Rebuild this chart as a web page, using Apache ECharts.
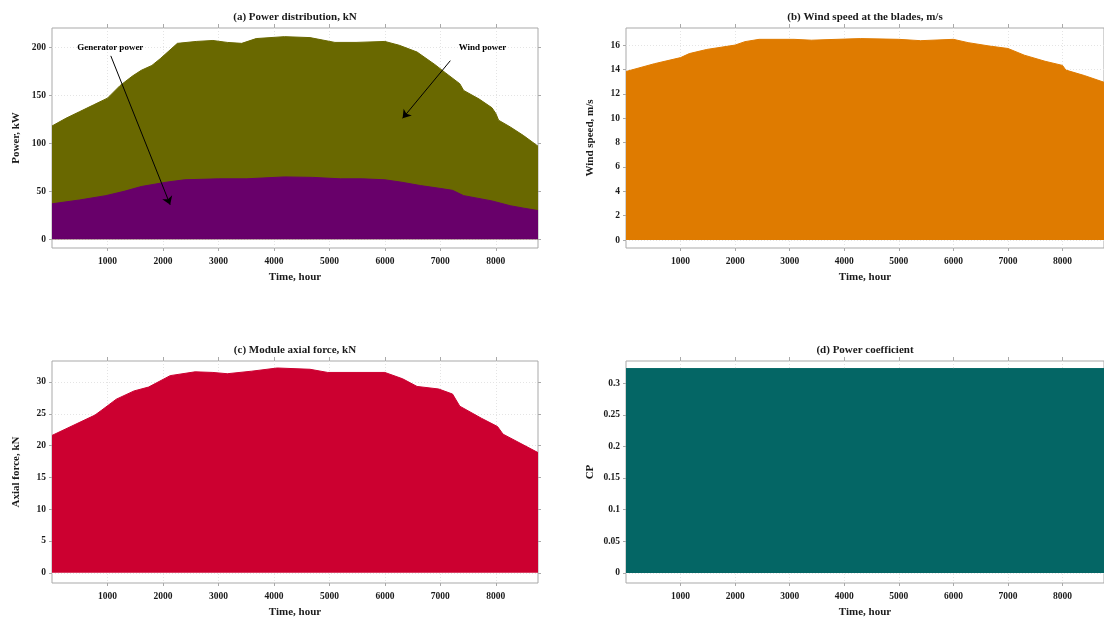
<!DOCTYPE html>
<html>
<head>
<meta charset="utf-8">
<script src="https://cdn.jsdelivr.net/npm/echarts@6/dist/echarts.min.js"></script>
<style>
  html, body { margin: 0; padding: 0; background: #ffffff; }
  #chart { width: 1104px; height: 623px; }
</style>
</head>
<body>
<div id="chart"></div>
<script>
// ---- Data: hourly profile over one year (hour, value) ----
const hourTicks = [1000, 2000, 3000, 4000, 5000, 6000, 7000, 8000];

// (a) Power distribution
const windPowerHours = [0, 250, 500, 750, 1000, 1225, 1450, 1610, 1800, 1950, 2260, 2600, 2900, 3160, 3420, 3680, 4190, 4650, 5100, 5480, 6000, 6260, 6580, 6900, 7100, 7350, 7420, 7700, 7930, 8000, 8050, 8260, 8500, 8760];
const windPowerKW    = [118, 126, 133, 140, 147, 160, 170, 176, 181, 188, 204, 206, 207, 205, 204, 209, 211, 210, 205, 205, 206, 202, 195, 182, 173, 162, 155, 146, 137, 131, 124, 117, 108, 97];
const genPowerHours  = [0, 500, 970, 1300, 1610, 2060, 2390, 3000, 3500, 4190, 4700, 5200, 5600, 6000, 6300, 6640, 7000, 7220, 7420, 7930, 8260, 8500, 8760];
const genPowerKW     = [37, 41, 45.5, 50, 55, 59.5, 62, 63, 63, 65, 64.5, 63, 63, 62, 59.5, 56, 53, 51, 45.5, 40, 35, 32.5, 30];

// (b) Wind speed at the blades
const windSpeedHours = [0, 520, 1000, 1160, 1480, 2000, 2180, 2440, 3080, 3400, 3720, 4300, 5000, 5400, 6000, 6270, 6660, 7000, 7300, 7680, 8000, 8060, 8400, 8760];
const windSpeedMS    = [13.83, 14.47, 14.97, 15.3, 15.64, 16.0, 16.28, 16.47, 16.47, 16.4, 16.45, 16.53, 16.47, 16.36, 16.47, 16.2, 15.92, 15.72, 15.17, 14.67, 14.33, 13.95, 13.5, 12.95];

// (c) Module axial force
const axialHours = [0, 775, 900, 1160, 1480, 1740, 2130, 2580, 2900, 3160, 3600, 4060, 4650, 4970, 5480, 6000, 6320, 6580, 6970, 7220, 7350, 7740, 8030, 8130, 8760];
const axialKN    = [21.6, 24.8, 25.6, 27.3, 28.6, 29.2, 31.0, 31.6, 31.5, 31.3, 31.7, 32.2, 32.0, 31.5, 31.5, 31.5, 30.5, 29.3, 28.9, 28.1, 26.2, 24.3, 23.0, 21.8, 18.9];

// (d) Power coefficient
const cpHours = [0, 2000, 4000, 6000, 8760];
const cpValues = [0.323, 0.323, 0.323, 0.323, 0.323];

// Annotation text and arrows for panel (a)
const annotationTexts = [
  { text: 'Generator power', at: [1050, 200] },
  { text: 'Wind power', at: [7760, 200] }
];
const annotationArrows = [
  { from: [1060, 191], to: [2130, 36] },
  { from: [7180, 186], to: [6320, 126] }
];

// Tick label values for each vertical axis
const powerTicks = [0, 50, 100, 150, 200];
const speedTicks = [0, 2, 4, 6, 8, 10, 12, 14, 16];
const forceTicks = [0, 5, 10, 15, 20, 25, 30];
const cpTicks = [0, 0.05, 0.1, 0.15, 0.2, 0.25, 0.3];

// ---- Helpers ----
const FONT = "'Liberation Serif', 'DejaVu Serif', serif";
const TEXT = '#1a1a1a';
const FRAME = '#a9a9a9';

function pairs(xs, ys) { return xs.map((x, i) => [x, ys[i]]); }

const grids = [
  { left: 52, top: 28, width: 486, height: 220 },
  { left: 626, top: 28, width: 486, height: 220 },
  { left: 52, top: 361, width: 486, height: 222 },
  { left: 626, top: 361, width: 486, height: 222 }
].map(g => Object.assign({ show: true, borderColor: FRAME, borderWidth: 1, backgroundColor: '#fff' }, g));

const titles = [
  '(a) Power distribution, kN',
  '(b) Wind speed at the blades, m/s',
  '(c) Module axial force, kN',
  '(d) Power coefficient'
];

const xAxes = [];
const yAxes = [];
const yCfg = [
  { name: 'Power, kW', min: -9, max: 220, ticks: powerTicks },
  { name: 'Wind speed, m/s', min: -0.65, max: 17.4, ticks: speedTicks },
  { name: 'Axial force, kN', min: -1.6, max: 33.3, ticks: forceTicks },
  { name: 'CP', min: -0.016, max: 0.335, ticks: cpTicks }
];

const labelStyle = { fontFamily: FONT, fontWeight: 'bold', fontSize: 9.5, color: TEXT };
const nameStyle = { fontFamily: FONT, fontWeight: 'bold', fontSize: 11, color: TEXT };

for (let g = 0; g < 4; g++) {
  // bottom time axis
  xAxes.push({
    type: 'value', gridIndex: g, position: 'bottom', min: 0, max: 8760,
    name: 'Time, hour', nameLocation: 'middle', nameGap: 24, nameTextStyle: nameStyle,
    axisLine: { show: false, onZero: false },
    axisTick: { show: true, inside: false, length: 3, customValues: hourTicks, lineStyle: { color: FRAME } },
    axisLabel: { show: true, margin: 9, customValues: hourTicks, formatter: v => String(v), ...labelStyle },
    splitLine: { show: true, lineStyle: { color: '#e4e4e4', type: [1, 2], width: 1 } }
  });
  // top mirrored axis carrying the panel title
  xAxes.push({
    type: 'value', gridIndex: g, position: 'top', min: 0, max: 8760,
    name: titles[g], nameLocation: 'middle', nameGap: 5, nameTextStyle: nameStyle,
    axisLine: { show: false, onZero: false },
    axisTick: { show: true, inside: false, length: 4, customValues: hourTicks, lineStyle: { color: FRAME } },
    axisLabel: { show: false },
    splitLine: { show: false }
  });
  const c = yCfg[g];
  yAxes.push({
    type: 'value', gridIndex: g, position: 'left', min: c.min, max: c.max,
    name: c.name, nameLocation: 'middle', nameGap: 30, nameRotate: 90, nameTextStyle: nameStyle,
    axisLine: { show: false, onZero: false },
    axisTick: { show: true, inside: false, length: 3, customValues: c.ticks, lineStyle: { color: FRAME } },
    axisLabel: { show: true, margin: 6, customValues: c.ticks, formatter: v => String(v), ...labelStyle },
    splitLine: { show: true, lineStyle: { color: '#e4e4e4', type: [1, 2], width: 1 } }
  });
  yAxes.push({
    type: 'value', gridIndex: g, position: 'right', min: c.min, max: c.max,
    axisLine: { show: false, onZero: false },
    axisTick: { show: true, inside: false, length: 3, customValues: c.ticks, lineStyle: { color: FRAME } },
    axisLabel: { show: false },
    splitLine: { show: false }
  });
}

function areaSeries(gridIdx, data, color, extra) {
  return Object.assign({
    type: 'line',
    xAxisIndex: gridIdx * 2,
    yAxisIndex: gridIdx * 2,
    data: data,
    showSymbol: false,
    symbol: 'none',
    lineStyle: { color: color, width: 1 },
    itemStyle: { color: color },
    areaStyle: { color: color, opacity: 1, origin: 0 },
    silent: true
  }, extra || {});
}

const series = [
  areaSeries(0, pairs(windPowerHours, windPowerKW), '#696800'),
  areaSeries(0, pairs(genPowerHours, genPowerKW), '#68006a', {
    markLine: {
      silent: true, animation: false,
      symbol: ['none', 'arrow'], symbolSize: [0, 8],
      itemStyle: { color: '#000' },
      lineStyle: { color: '#000', width: 1, type: 'solid' },
      label: { show: false },
      data: annotationArrows.map(a => [
        { coord: a.from, symbol: 'none' },
        { coord: a.to, symbol: 'arrow', symbolSize: 8, itemStyle: { color: '#000' } }
      ])
    },
    markPoint: {
      silent: true, animation: false,
      symbol: 'circle', symbolSize: 0,
      label: { show: true, position: 'inside', formatter: p => p.name, fontFamily: FONT, fontWeight: 'bold', fontSize: 9, color: '#000' },
      data: annotationTexts.map(t => ({ name: t.text, coord: t.at }))
    }
  }),
  areaSeries(1, pairs(windSpeedHours, windSpeedMS), '#df7b00'),
  areaSeries(2, pairs(axialHours, axialKN), '#cc0030'),
  areaSeries(3, pairs(cpHours, cpValues), '#046665')
];

const chart = echarts.init(document.getElementById('chart'), null, { renderer: 'canvas' });
chart.setOption({
  animation: false,
  backgroundColor: '#ffffff',
  grid: grids,
  xAxis: xAxes,
  yAxis: yAxes,
  series: series
});
</script>
</body>
</html>
